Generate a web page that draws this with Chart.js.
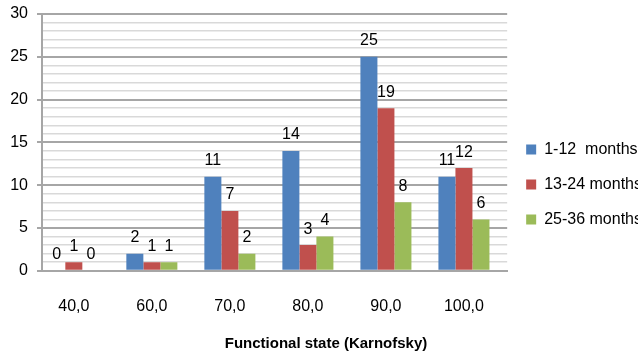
<!DOCTYPE html>
<html>
<head>
<meta charset="utf-8">
<script src="https://cdn.jsdelivr.net/npm/chart.js@4"></script>
<style>
  html, body { margin: 0; padding: 0; background: #fff; overflow: hidden; }
  canvas { display: block; }
</style>
</head>
<body>
<canvas id="chart" width="652" height="355"></canvas>
<script>
const xLabels = ['40,0', '60,0', '70,0', '80,0', '90,0', '100,0'];
const seriesNames = ['1-12  months', '13-24 months', '25-36 months'];
const months1to12 = [0, 2, 11, 14, 25, 11];
const months13to24 = [1, 1, 7, 3, 19, 12];
const months25to36 = [0, 1, 2, 4, 8, 6];
const seriesColors = ['#4F81BD', '#C0504D', '#9BBB59'];
const axisTitle = 'Functional state (Karnofsky)';

Chart.defaults.font.family = "'Liberation Sans', Arial, sans-serif";
Chart.defaults.color = '#000';

function toPoints(values) {
  return values.map((v, i) => ({ x: i, y: v }));
}

// value labels above every bar
const barLabels = {
  id: 'barLabels',
  afterDatasetsDraw(chart) {
    const ctx = chart.ctx;
    ctx.save();
    ctx.font = "16px 'Liberation Sans', Arial, sans-serif";
    ctx.fillStyle = '#000';
    ctx.textAlign = 'center';
    ctx.textBaseline = 'alphabetic';
    chart.data.datasets.forEach((ds, d) => {
      chart.getDatasetMeta(d).data.forEach((bar, i) => {
        ctx.fillText(String(ds.data[i].y), bar.x, bar.y - 11.5);
      });
    });
    ctx.restore();
  }
};

const majorGrid = '#a6a6a6';
const minorGrid = '#d9d9d9';

new Chart(document.getElementById('chart'), {
  type: 'bar',
  data: {
    datasets: [
      { label: seriesNames[0], data: toPoints(months1to12), backgroundColor: seriesColors[0] },
      { label: seriesNames[1], data: toPoints(months13to24), backgroundColor: seriesColors[1] },
      { label: seriesNames[2], data: toPoints(months25to36), backgroundColor: seriesColors[2] }
    ]
  },
  options: {
    responsive: false,
    animation: false,
    devicePixelRatio: 1,
    layout: { padding: { top: 14, left: 0, right: 0, bottom: 0 } },
    datasets: {
      bar: { categoryPercentage: 0.654, barPercentage: 1.0, borderWidth: 0 }
    },
    scales: {
      x: {
        type: 'linear',
        offset: false,
        min: -0.408,
        max: 5.554,
        grid: { display: false, offset: false, drawTicks: true, tickLength: 26 },
        border: { display: true, color: majorGrid, width: 2 },
        ticks: {
          stepSize: 1,
          includeBounds: false,
          autoSkip: false,
          maxRotation: 0,
          padding: 0,
          font: { size: 16 },
          color: '#000',
          callback: v => (Number.isInteger(v) && xLabels[v] !== undefined) ? xLabels[v] : ''
        }
      },
      y: {
        min: 0,
        max: 30,
        afterFit(scale) {
          scale.width = 42;
          scale.paddingTop = 0;
        },
        border: { display: true, color: majorGrid, width: 2 },
        grid: {
          color: c => (c.tick && c.tick.value % 5 === 0) ? majorGrid : minorGrid,
          tickColor: c => (c.tick && c.tick.value % 5 === 0) ? majorGrid : 'rgba(0,0,0,0)',
          lineWidth: c => (c.tick && c.tick.value % 5 === 0) ? 2 : 1.5,
          tickLength: 5
        },
        ticks: {
          stepSize: 1,
          autoSkip: false,
          padding: 9,
          font: { size: 16 },
          color: '#000',
          callback: v => (v % 5 === 0) ? v : ''
        }
      }
    },
    plugins: {
      legend: {
        position: 'right',
        labels: {
          boxWidth: 10,
          boxHeight: 10,
          padding: 19,
          color: '#000',
          font: { size: 16 }
        }
      },
      title: {
        display: true,
        position: 'bottom',
        text: axisTitle,
        color: '#000',
        font: { size: 15, weight: 'bold' },
        padding: { top: 19, bottom: 2 }
      },
      tooltip: { enabled: false }
    }
  },
  plugins: [barLabels]
});
</script>
</body>
</html>
